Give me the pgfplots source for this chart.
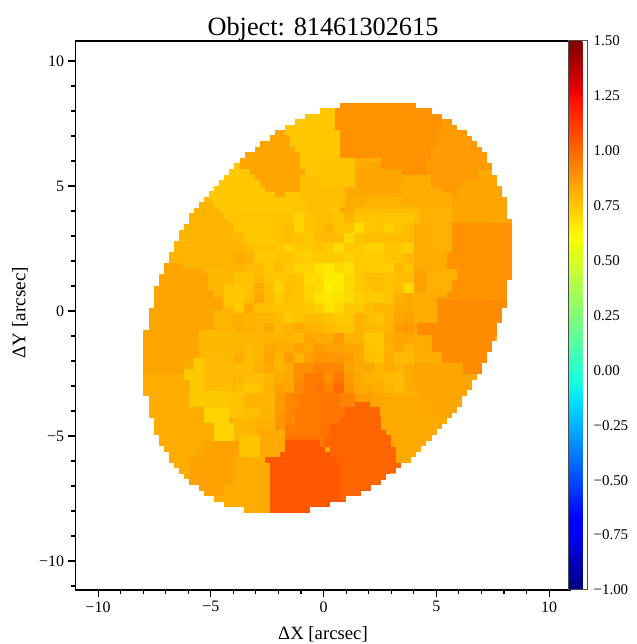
\documentclass[border=0pt]{standalone}
\usepackage{fontspec}
\setmainfont{Liberation Serif}
\usepackage{pgfplots}
\usepackage{pgfplotstable}
\pgfplotsset{compat=1.18}
\pgfdeclareplotmark{cellrect}{%
  \pgfpathrectangle{\pgfpoint{-0.5*\cw bp}{-0.5*\ch bp}}{\pgfpoint{\cw bp}{\ch bp}}%
  \pgfusepath{fill}}
\pgfplotsset{colormap={jetx}{
 rgb(0pt)=(0,0,.5); rgb(11pt)=(0,0,1); rgb(13pt)=(0,0,1); rgb(34pt)=(0,.86,1); rgb(38pt)=(.1,1,.87);
 rgb(64pt)=(.97,1,0); rgb(66pt)=(1,.93,0); rgb(89pt)=(1,.07,0); rgb(91pt)=(.91,0,0); rgb(100pt)=(.5,0,0)}}
\pgfplotstableread{
x0 x1 y0 y1 v
140 515 100 515 .82
205 340 105 240 .75
275 285 130 135 .84
270 290 135 140 .84
260 290 140 147 .84
255 295 147 152 .84
245 300 152 158 .84
240 300 158 169 .84
250 305 169 175 .84
255 300 175 180 .84
260 300 180 187 .84
265 300 187 192 .84
275 285 192 197 .84
300 330 175 197 .77
305 330 197 217 .77
160 209 197 202 .80
160 214 202 208 .80
160 219 208 213 .80
160 224 213 218 .80
160 229 218 223 .80
160 234 223 230 .80
160 239 230 236 .80
160 244 236 267 .80
205 234 268 310 .79
224 234 285 306 .75
150 183 263 269 .84
150 199 269 274 .84
150 208 274 290 .84
140 214 290 297 .84
140 223 297 310 .84
140 214 308 330 .84
214 234 310 330 .80
140 204 330 335 .84
140 199 335 358 .84
199 234 330 358 .79
140 185 358 374 .84
204 233 358 391 .78
194 204 358 369 .745
184 204 369 380 .745
190 204 380 391 .745
189 229 391 407 .745
229 244 391 418 .76
244 275 393 418 .80
245 260 408 418 .77
204 229 407 423 .72
214 234 423 441 .715
234 255 418 440 .79
254 275 418 430 .81
275 290 413 430 .88
275 285 393 413 .87
285 300 393 425 .92
239 260 435 457 .76
260 285 430 457 .83
204 239 441 457 .85
199 204 452 457 .85
189 233 457 485 .85
199 229 485 491 .85
204 224 491 496 .85
233 270 457 515 .82
224 270 485 515 .82
300 320 393 410 .95
295 320 410 425 .95
285 320 425 435 .95
285 320 435 440 .97
320 345 393 425 .96
320 335 425 447 .97
340 355 393 407 .93
355 372 393 402 .86
372 382 393 413 .84
285 320 440 447 1.04
285 325 447 452 1.04
280 335 452 457 1.04
265 335 457 463 1.04
270 340 463 491 1.04
270 346 491 502 1.04
270 330 502 507 1.04
270 310 507 515 1.04
355 370 402 407 1.01
345 380 407 417 1.01
340 385 417 423 1.01
330 386 423 435 1.01
325 391 435 447 1.01
330 396 447 457 1.01
335 402 457 463 1.01
340 402 463 468 1.01
340 396 468 473 1.01
340 390 473 500 1.01
381 442 397 430 .83
391 432 430 447 .83
396 416 447 463 .83
410 477 363 390 .84
420 467 390 400 .84
427 457 400 413 .84
441 452 413 418 .84
437 515 300 308 .905
437 510 308 323 .905
417 500 323 335 .905
432 495 335 352 .905
442 490 352 363 .905
463 485 363 374 .905
340 420 100 108 .89
335 435 108 113 .89
335 442 113 130 .89
340 442 130 136 .89
340 436 136 146 .89
340 431 146 158 .89
381 426 158 170 .89
386 426 169 175 .89
396 406 175 180 .89
350 355 158 163 .89
442 480 116 131 .865
436 490 131 146 .865
431 500 146 158 .865
426 500 158 170 .865
426 477 170 180 .865
431 462 180 187 .865
441 457 187 197 .865
477 515 175 180 .84
462 515 180 187 .84
457 515 187 197 .84
452 515 197 223 .84
452 515 223 253 .89
447 515 253 269 .89
457 515 269 280 .89
452 515 280 292 .89
447 515 292 297 .89
437 515 297 300 .89
361 381 163 169 .84
356 401 169 185 .84
401 431 175 187 .82
350 401 185 197 .83
401 440 187 192 .82
401 452 192 207 .82
366 401 197 207 .80
355 420 207 223 .78
420 452 207 223 .81
426 452 223 250 .81
414 447 250 270 .82
427 457 269 280 .81
414 427 270 292 .85
427 452 280 292 .81
320 355 158 187 .76
320 345 187 207 .77
345 355 202 218 .82
}\rects
\pgfplotstableread{
x y v
234 213 .76
244 213 .76
254 213 .76
264 213 .76
274 213 .76
284 213 .76
294 213 .72
304 213 .76
314 213 .77
234 223 .75
244 223 .75
254 223 .75
264 223 .75
274 223 .76
284 223 .77
294 223 .72
304 223 .76
314 223 .77
234 233 .79
244 233 .75
254 233 .75
264 233 .75
274 233 .76
284 233 .77
294 233 .76
304 233 .75
314 233 .78
234 243 .80
244 243 .78
254 243 .76
264 243 .76
274 243 .75
284 243 .72
294 243 .75
304 243 .74
314 243 .76
234 253 .82
244 253 .81
254 253 .75
264 253 .74
274 253 .76
284 253 .76
294 253 .74
304 253 .73
314 253 .74
234 263 .80
244 263 .78
254 263 .78
264 263 .75
274 263 .78
284 263 .74
294 263 .72
304 263 .72
314 263 .68
234 273 .76
244 273 .76
254 273 .79
264 273 .76
274 273 .74
284 273 .76
294 273 .76
304 273 .70
314 273 .70
234 283 .74
244 283 .76
254 283 .82
264 283 .77
274 283 .72
284 283 .77
294 283 .76
304 283 .72
314 283 .70
234 293 .74
244 293 .77
254 293 .83
264 293 .78
274 293 .74
284 293 .77
294 293 .76
304 293 .72
314 293 .68
324 213 .78
334 213 .76
344 213 .80
354 213 .76
364 213 .76
374 213 .76
384 213 .75
394 213 .75
404 213 .75
324 223 .80
334 223 .76
344 223 .76
354 223 .70
364 223 .75
374 223 .76
384 223 .73
394 223 .76
404 223 .78
324 233 .78
334 233 .78
344 233 .70
354 233 .76
364 233 .77
374 233 .77
384 233 .77
394 233 .78
404 233 .78
324 243 .74
334 243 .70
344 243 .74
354 243 .74
364 243 .72
374 243 .72
384 243 .76
394 243 .75
404 243 .73
324 253 .74
334 253 .74
344 253 .72
354 253 .74
364 253 .74
374 253 .74
384 253 .75
394 253 .76
404 253 .79
324 263 .66
334 263 .70
344 263 .68
354 263 .74
364 263 .74
374 263 .74
384 263 .73
394 263 .79
404 263 .76
324 273 .65
334 273 .65
344 273 .70
354 273 .74
364 273 .77
374 273 .77
384 273 .76
394 273 .77
404 273 .78
324 283 .64
334 283 .66
344 283 .70
354 283 .74
364 283 .76
374 283 .78
384 283 .76
394 283 .78
404 283 .70
324 293 .66
334 293 .68
344 293 .70
354 293 .73
364 293 .74
374 293 .74
384 293 .76
394 293 .81
404 293 .83
234 303 .74
244 303 .83
254 303 .77
264 303 .77
274 303 .76
284 303 .76
294 303 .76
304 303 .75
314 303 .73
234 313 .81
244 313 .80
254 313 .80
264 313 .80
274 313 .78
284 313 .74
294 313 .76
304 313 .78
314 313 .77
234 323 .82
244 323 .81
254 323 .80
264 323 .83
274 323 .78
284 323 .80
294 323 .82
304 323 .81
314 323 .80
234 333 .79
244 333 .80
254 333 .80
264 333 .80
274 333 .80
284 333 .80
294 333 .79
304 333 .84
314 333 .82
234 343 .80
244 343 .78
254 343 .79
264 343 .83
274 343 .82
284 343 .82
294 343 .85
304 343 .83
314 343 .87
234 353 .82
244 353 .78
254 353 .80
264 353 .84
274 353 .80
284 353 .86
294 353 .80
304 353 .86
314 353 .88
234 363 .77
244 363 .78
254 363 .81
264 363 .83
274 363 .80
284 363 .82
294 363 .90
304 363 .90
314 363 .93
234 373 .79
244 373 .78
254 373 .78
264 373 .79
274 373 .82
284 373 .84
294 373 .90
304 373 .95
314 373 .95
234 383 .77
244 383 .75
254 383 .76
264 383 .80
274 383 .85
284 383 .84
294 383 .92
304 383 .95
314 383 .96
324 303 .68
334 303 .70
344 303 .75
354 303 .74
364 303 .77
374 303 .80
384 303 .79
394 303 .83
404 303 .83
324 313 .76
334 313 .74
344 313 .74
354 313 .81
364 313 .78
374 313 .76
384 313 .80
394 313 .84
404 313 .85
324 323 .78
334 323 .76
344 323 .76
354 323 .80
364 323 .79
374 323 .78
384 323 .80
394 323 .86
404 323 .87
324 333 .82
334 333 .87
344 333 .80
354 333 .80
364 333 .75
374 333 .75
384 333 .82
394 333 .84
404 333 .84
324 343 .85
334 343 .85
344 343 .84
354 343 .83
364 343 .76
374 343 .75
384 343 .81
394 343 .83
404 343 .80
324 353 .88
334 353 .88
344 353 .86
354 353 .83
364 353 .78
374 353 .76
384 353 .82
394 353 .78
404 353 .78
324 363 .92
334 363 .92
344 363 .85
354 363 .83
364 363 .83
374 363 .80
384 363 .82
394 363 .80
404 363 .82
324 373 .90
334 373 .96
344 373 .87
354 373 .83
364 373 .80
374 373 .80
384 373 .78
394 373 .78
404 373 .82
324 383 .93
334 383 1.0
344 383 .88
354 383 .83
364 383 .83
374 383 .82
384 383 .80
394 383 .78
404 383 .82
}\blocks
\pgfplotstableread{
x0 x1 y0 y1
70 576 30 103
70 576 513 600
70 340 103 108
70 320 108 114
70 305 114 119
70 295 119 125
70 285 125 130
70 275 130 135
70 270 135 141
70 260 141 147
70 255 147 152
70 245 152 158
70 240 158 163
70 234 163 169
70 229 169 175
70 224 175 180
70 219 180 186
70 214 186 191
70 209 191 197
70 204 197 202
70 199 202 208
70 194 208 213
70 189 213 224
70 184 224 230
70 179 230 241
70 174 241 252
70 169 252 263
70 164 263 274
70 159 274 286
70 154 286 308
70 149 308 330
70 143 330 396
70 149 396 418
70 154 418 435
70 159 435 446
70 164 446 452
70 169 452 463
70 174 463 468
70 179 468 474
70 184 474 479
70 189 479 485
70 199 485 491
70 204 491 496
70 214 496 502
70 224 502 507
70 244 507 513
416 576 103 108
432 576 108 114
442 576 114 119
452 576 119 125
457 576 125 130
467 576 130 136
472 576 136 141
477 576 141 147
482 576 147 152
487 576 152 163
492 576 163 175
497 576 175 186
502 576 186 197
507 576 197 219
512 576 219 280
507 576 280 308
502 576 308 323
497 576 323 341
492 576 341 352
487 576 352 363
482 576 363 374
477 576 374 380
472 576 380 390
467 576 390 396
462 576 396 407
457 576 407 413
452 576 413 418
447 576 418 424
442 576 424 429
437 576 429 435
432 576 435 441
426 576 441 446
421 576 446 452
416 576 452 457
411 576 457 463
401 576 463 468
396 576 468 474
386 576 474 480
381 576 480 485
371 576 485 491
361 576 491 496
346 576 496 502
330 576 502 507
310 576 507 513
}\mask
\begin{document}
\begin{tikzpicture}
\useasboundingbox (0,0) rectangle (637bp,644bp);
\begin{axis}[
  at={(75.5bp,54bp)}, anchor=south west,
  scale only axis, width=495bp, height=549bp,
  xmin=-11, xmax=10.95, ymin=-11.16, ymax=10.8,
  clip marker paths=true,
  axis on top, axis line style={line width=1.2bp},
  xtick={-10,-5,0,5,10}, ytick={-10,-5,0,5,10},
  xticklabels={−10,−5,0,5,10}, yticklabels={−10,−5,0,5,10},
  minor xtick={-10,...,10}, minor ytick={-11,...,10},
  tick align=outside, xtick pos=lower, ytick pos=left,
  major tick length=7bp, minor tick length=4bp,
  tick style={line width=1.1bp,black},
  tick label style={font=\fontsize{16}{16}\selectfont},
  xticklabel style={yshift=-1bp}, yticklabel style={xshift=-1bp},
  title={Object: 81461302615},
  title style={font=\fontsize{26.4}{26.4}\selectfont,at={(axis description cs:0.5,1.011)},anchor=center},
  xlabel={ΔX [arcsec]},
  xlabel style={font=\fontsize{18.8}{18.8}\selectfont,at={(axis description cs:0.5,-0.081)},anchor=center},
  ylabel={ΔY [arcsec]},
  ylabel style={font=\fontsize{19.2}{19.2}\selectfont,at={(axis description cs:-0.112,0.505)},anchor=center},
  colormap name=jetx,
  point meta min=-1, point meta max=1.5,
  colorbar,
  colorbar style={
    colorbar shift/.style={xshift=-3bp},
    width=19bp,
    ytick={-1,-.75,-.5,-.25,0,.25,.5,.75,1,1.25,1.5},
    yticklabels={−1.00,−0.75,−0.50,−0.25,0.00,0.25,0.50,0.75,1.00,1.25,1.50},
    ytick style={draw=none}, major tick length=0pt,
    yticklabel style={font=\fontsize{15}{15}\selectfont,xshift=3bp},
    axis line style={line width=1bp,draw=black!70},
  },
]
\addplot[scatter, only marks, mark=cellrect,
  scatter/use mapped color={draw=none,fill=mapped color},
  point meta=\thisrow{v},
  visualization depends on={\thisrow{x1}-\thisrow{x0}+0.3 \as \cw},
  visualization depends on={\thisrow{y1}-\thisrow{y0}+0.3 \as \ch}]
  table[x expr={(\thisrow{x0}+\thisrow{x1})/2/22.55-14.346},
        y expr={12.44-(\thisrow{y0}+\thisrow{y1})/2/25}] {\rects};
\addplot[scatter, only marks, mark=cellrect,
  scatter/use mapped color={draw=none,fill=mapped color},
  point meta=\thisrow{v},
  visualization depends on={10.3 \as \cw},
  visualization depends on={10.3 \as \ch}]
  table[x expr={(\thisrow{x}+5)/22.55-14.346},
        y expr={12.44-(\thisrow{y}+5)/25}] {\blocks};
\addplot[only marks, mark=cellrect, mark options={draw=none,fill=white},
  visualization depends on={\thisrow{x1}-\thisrow{x0}+0.2 \as \cw},
  visualization depends on={\thisrow{y1}-\thisrow{y0}+0.2 \as \ch}]
  table[x expr={(\thisrow{x0}+\thisrow{x1})/2/22.55-14.346},
        y expr={12.44-(\thisrow{y0}+\thisrow{y1})/2/25}] {\mask};
\end{axis}
\end{tikzpicture}
\end{document}
